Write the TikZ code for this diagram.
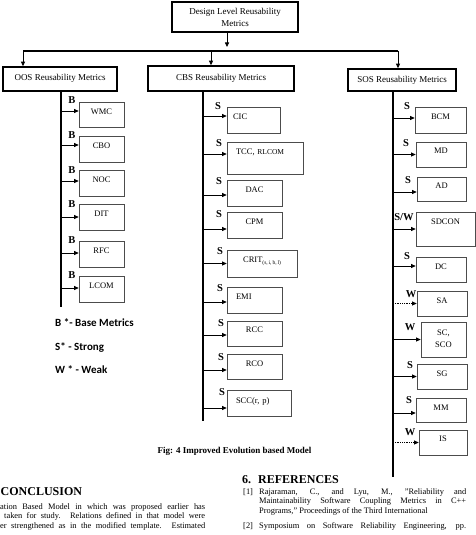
\documentclass[tikz,border=0pt]{standalone}
\usepackage{fontspec}
\setmainfont{Liberation Serif}
\newfontfamily\legendfont{Carlito}
\usetikzlibrary{arrows.meta}
\begin{document}
\begin{tikzpicture}[x=1pt,y=-1pt,
  hbox/.style={draw,line width=1.6pt,font=\fontsize{9}{12}\selectfont,inner sep=0pt,align=center},
  cbox/.style={draw=black!70,line width=0.7pt,font=\fontsize{8.5}{10.5}\selectfont,inner xsep=0pt,inner ysep=0pt,align=center},
  tp/.style 2 args={text height=#1pt,text depth=#2pt},
  lab/.style={font=\bfseries\fontsize{10.5}{12}\selectfont,inner sep=0pt},
  spine/.style={line width=1.2pt},
  arr/.style={line width=0.8pt,-{Triangle[length=4.5pt,width=4pt]}},
  darr/.style={arr,densely dotted},
  legend/.style={font=\legendfont\bfseries\fontsize{11}{13}\selectfont,inner sep=0pt,anchor=west},
  body/.style={font=\fontsize{8.4}{9}\selectfont,inner sep=0pt,anchor=west}
]
\useasboundingbox (0,0) rectangle (476,535);

% headers
\node[hbox,minimum width=126pt,minimum height=30pt] (top) at (235,17) {Design Level Reusability\\Metrics};
\node[hbox,minimum width=114pt,minimum height=24pt,tp={7.3}{4.7}] (oos) at (60,79) {OOS Reusability Metrics};
\node[hbox,minimum width=146pt,minimum height=25pt,tp={7.5}{4.5}] (cbs) at (221,78.5) {CBS Reusability Metrics};
\node[hbox,minimum width=108pt,minimum height=22pt,tp={8.5}{3.5}] (sos) at (402,80) {SOS Reusability Metrics};

% bus
\coordinate (tA) at (227,47);
\coordinate (bL) at (23,51);
\coordinate (bC) at (211,51);
\coordinate (bR) at (398,51);
\draw[arr] (top.south -| tA) -- (tA);
\draw[line width=1.2pt] (bL) -- (bR);
\draw[arr] (bL) -- (bL |- oos.north);
\draw[arr] (bC) -- (bC |- cbs.north);
\draw[arr] (bR) -- (bR |- sos.north);

% spines
\coordinate (oosE) at (61,307);
\coordinate (cbsE) at (203,421);
\coordinate (sosE) at (393,477);
\draw[spine] (oos.south -| oosE) -- (oosE);
\draw[spine] (cbs.south -| cbsE) -- (cbsE);
\draw[spine] (sos.south -| sosE) -- (sosE);

% OOS children
\node[cbox,text width=45pt,minimum height=25pt,tp={5.5}{6.5}] (wmc) at (101.5,114.5) {WMC};
\node[cbox,text width=45pt,minimum height=26pt,tp={5.5}{6.5}] (cbo) at (101.5,149) {CBO};
\node[cbox,text width=45pt,minimum height=26pt,tp={5.5}{6.5}] (noc) at (101.5,183) {NOC};
\node[cbox,text width=45pt,minimum height=26pt,tp={5.5}{6.5}] (dit) at (101.5,217) {DIT};
\node[cbox,text width=45pt,minimum height=26pt,tp={5.5}{6.5}] (rfc) at (101.5,254) {RFC};
\node[cbox,text width=45pt,minimum height=26pt,tp={5.5}{6.5}] (lcom) at (101.5,289) {LCOM};
\draw[arr] ([yshift=3.5pt]wmc.west -| oosE) -- ([yshift=3.5pt]wmc.west);
\draw[arr] ([yshift=4pt]cbo.west -| oosE) -- ([yshift=4pt]cbo.west);
\draw[arr] ([yshift=2pt]noc.west -| oosE) -- ([yshift=2pt]noc.west);
\draw[arr] (dit.west -| oosE) -- (dit.west);
\draw[arr] ([yshift=1pt]rfc.west -| oosE) -- ([yshift=1pt]rfc.west);
\draw[arr] ([yshift=1pt]lcom.west -| oosE) -- ([yshift=1pt]lcom.west);
\node[lab] (lb1) at (72,100) {B};
\node[lab] (lb2) at (72,135) {B};
\node[lab] (lb3) at (72,170) {B};
\node[lab] (lb4) at (72,204) {B};
\node[lab] (lb5) at (72,240) {B};
\node[lab] (lb6) at (72,275) {B};

% CBS children
\node[cbox,text width=53pt,minimum height=26pt,tp={5.8}{6.2},align=left] (cic) at (253.5,120) {\hspace*{6pt}CIC};
\node[cbox,text width=76pt,minimum height=32pt,tp={2.8}{9.2},align=left] (tcc) at (265,158) {\hspace*{9pt}TCC, {\fontsize{7.5}{9}\selectfont RLCOM}};
\node[cbox,text width=55pt,minimum height=26pt,tp={5.8}{6.2}] (dac) at (254.5,193) {DAC};
\node[cbox,text width=55pt,minimum height=26pt,tp={5.8}{6.2}] (cpm) at (254.5,225) {CPM};
\node[cbox,text width=70pt,minimum height=27pt,tp={5.3}{6.7}] (crit) at (262,263.5) {CRIT\raisebox{-2pt}{\fontsize{5.5}{6}\selectfont(s,\,i,\,b,\,l)}};
\node[cbox,text width=55pt,minimum height=26pt,tp={5.8}{6.2},align=left] (emi) at (254.5,300) {\hspace*{9pt}EMI};
\node[cbox,text width=55pt,minimum height=25pt,tp={5.3}{6.7}] (rcc) at (254.5,333.5) {RCC};
\node[cbox,text width=55pt,minimum height=25pt,tp={6.3}{5.7}] (rco) at (254.5,366.5) {RCO};
\node[cbox,text width=64pt,minimum height=26pt,tp={6.8}{5.2},align=left] (scc) at (259,403) {\hspace*{9pt}SCC(r, p)};
\draw[arr] ([yshift=4pt]cic.west -| cbsE) -- ([yshift=4pt]cic.west);
\draw[arr] ([yshift=4pt]tcc.west -| cbsE) -- ([yshift=4pt]tcc.west);
\draw[arr] ([yshift=-2pt]dac.west -| cbsE) -- ([yshift=-2pt]dac.west);
\draw[arr] ([yshift=-4pt]cpm.west -| cbsE) -- ([yshift=-4pt]cpm.west);
\draw[arr] (crit.west -| cbsE) -- (crit.west);
\draw[arr] ([yshift=-2pt]emi.west -| cbsE) -- ([yshift=-2pt]emi.west);
\draw[arr] ([yshift=-1.5pt]rcc.west -| cbsE) -- ([yshift=-1.5pt]rcc.west);
\draw[arr] ([yshift=-3.5pt]rco.west -| cbsE) -- ([yshift=-3.5pt]rco.west);
\draw[arr] ([yshift=-5pt]scc.west -| cbsE) -- ([yshift=-5pt]scc.west);
\node[lab] (ls1) at (218,106) {S};
\node[lab] (ls2) at (219,143) {S};
\node[lab] (ls3) at (219,181) {S};
\node[lab] (ls4) at (219,214) {S};
\node[lab] (ls5) at (220,251) {S};
\node[lab] (ls6) at (220,288) {S};
\node[lab] (ls7) at (221,323) {S};
\node[lab] (ls8) at (221,357) {S};
\node[lab] (ls9) at (222,392) {S};

% SOS children
\node[cbox,text width=51pt,minimum height=26pt,tp={5.8}{6.2}] (bcm) at (440.5,120) {BCM};
\node[cbox,text width=50pt,minimum height=25pt,tp={5.3}{6.7}] (md) at (441,154.5) {MD};
\node[cbox,text width=49pt,minimum height=24pt,tp={5.8}{6.2}] (ad) at (441.5,189) {AD};
\node[cbox,text width=59pt,minimum height=34pt,tp={1.8}{10.2}] (sdcon) at (445.5,229) {SDCON};
\node[cbox,text width=50pt,minimum height=25pt,tp={5.8}{6.2}] (dc) at (441,269.5) {DC};
\node[cbox,text width=50pt,minimum height=25pt,tp={5.8}{6.2}] (sa) at (442,303.5) {SA};
\node[cbox,text width=45pt,minimum height=35pt,font=\fontsize{8.5}{11.5}\selectfont] (sc) at (443.5,339.5) {SC,\\SCO\vphantom{,}};
\node[cbox,text width=50pt,minimum height=25pt,tp={6.3}{5.7}] (sg) at (442,376.5) {SG};
\node[cbox,text width=50pt,minimum height=24pt,tp={6.8}{5.2}] (mm) at (441,410) {MM};
\node[cbox,text width=48pt,minimum height=25pt,tp={5.3}{6.7}] (is) at (443,442.5) {IS};
\draw[arr] ([yshift=2pt]bcm.west -| sosE) -- ([yshift=2pt]bcm.west);
\draw[arr] (md.west -| sosE) -- (md.west);
\draw[arr] ([yshift=-3pt]ad.west -| sosE) -- ([yshift=-3pt]ad.west);
\draw[arr] (sdcon.west -| sosE) -- (sdcon.west);
\draw[arr] ([yshift=3.5pt]dc.west -| sosE) -- ([yshift=3.5pt]dc.west);
\draw[darr] (sa.west -| sosE) -- (sa.west);
\draw[arr] (sc.west -| sosE) -- (sc.west);
\draw[arr] (sg.west -| sosE) -- (sg.west);
\draw[arr] ([yshift=-3pt]mm.west -| sosE) -- ([yshift=-3pt]mm.west);
\draw[darr] (is.west -| sosE) -- (is.west);
\node[lab] (lt1) at (407,106) {S};
\node[lab] (lt2) at (406,143) {S};
\node[lab] (lt3) at (408,180) {S};
\node[lab] (lt4) at (404,217) {S/W};
\node[lab] (lt5) at (407,256) {S};
\node[lab] (lt6) at (411,294) {W};
\node[lab] (lt7) at (410,327) {W};
\node[lab] (lt8) at (410,365) {S};
\node[lab] (lt9) at (409,400) {S};
\node[lab] (lt10) at (410,432) {W};

% legend
\node[legend] (leg1) at (55,323) {B *- Base Metrics};
\node[legend] (leg2) at (55,347) {S* - Strong};
\node[legend] (leg3) at (55,370) {W * - Weak};

% caption
\node[font=\bfseries\fontsize{9}{11}\selectfont,inner sep=0pt] (cap) at (234.5,451) {Fig: 4 Improved Evolution based Model};

% left column text
\node[font=\bfseries\fontsize{12}{14}\selectfont,inner sep=0pt,anchor=west] (conc) at (0.5,492) {CONCLUSION};
\node[body] (c1) at (0,507) {\makebox[205pt][s]{ation Based Model in which was proposed earlier has}};
\node[body] (c2) at (4,516.5) {\makebox[201pt][s]{taken for study. Relations defined in that model were}};
\node[body] (c3) at (0,526) {\makebox[205pt][s]{er strengthened as in the modified template. Estimated}};

% references
\node[font=\bfseries\fontsize{12}{14}\selectfont,inner sep=0pt,anchor=west] (refh) at (242,480) {6.\hspace{7pt}REFERENCES};
\node[body] (r1n) at (243,492.5) {[1]};
\node[body] (r1a) at (259,492.5) {\makebox[207pt][s]{Rajaraman, C., and Lyu, M., "Reliability and}};
\node[body] (r1b) at (259,501.5) {\makebox[207pt][s]{Maintainability Software Coupling Metrics in C++}};
\node[body] (r1c) at (259,511) {Programs," Proceedings of the Third International};
\node[body] (r2n) at (243,526) {[2]};
\node[body] (r2a) at (259,526) {\makebox[207pt][s]{Symposium on Software Reliability Engineering, pp.}};
\end{tikzpicture}
\end{document}
